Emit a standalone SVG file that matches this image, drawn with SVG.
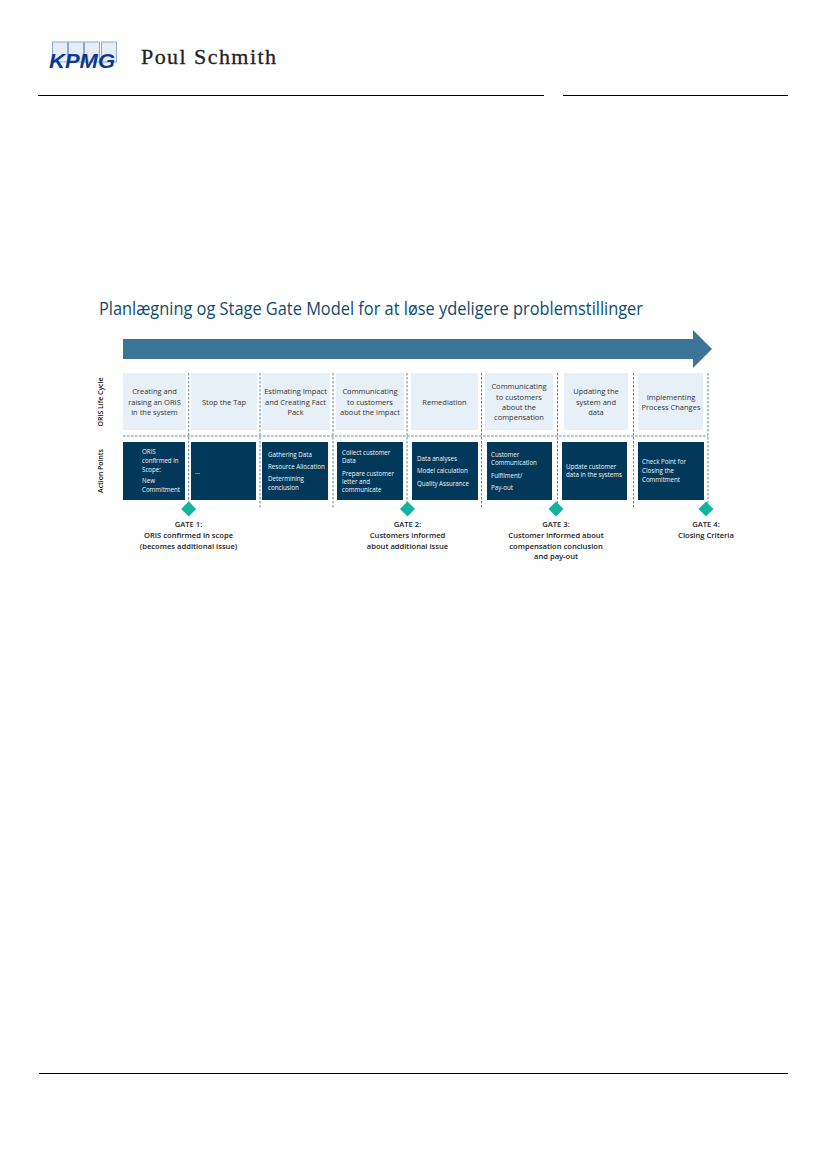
<svg xmlns="http://www.w3.org/2000/svg" width="827" height="1169" viewBox="0 0 827 1169">
<style>
text{font-family:"Open Sans","Noto Sans","Liberation Sans",sans-serif}
.rule{stroke:#000;stroke-width:1.2;fill:none}
.light{fill:#e8f0f7}
.dark{fill:#02395a}
.lt{font-size:7.5px;fill:#333;text-anchor:middle}
.dt{font-size:6.2px;fill:#f2f6f8}
.gt{font-size:7.6px;fill:#222;text-anchor:middle;font-weight:600}
.side{font-size:6.9px;fill:#111;text-anchor:middle;font-weight:600}
.dash{stroke:#5f8aa5;stroke-width:1;stroke-dasharray:2.5 1.5;fill:none}
.gem{fill:#10b59b}
.kb{fill:#e6edf8;stroke:#8ea9d8;stroke-width:1}
</style>
<g id="header">
<rect class="kb" x="52.500" y="42" width="15" height="20"/>
<rect class="kb" x="68.500" y="42" width="15" height="20"/>
<rect class="kb" x="84.500" y="42" width="15" height="20"/>
<rect class="kb" x="101.500" y="42" width="15" height="20"/>
<text x="49" y="68" style="font-family:'Liberation Sans',sans-serif;font-size:21px;font-weight:700;font-style:italic;fill:#0b3a94" textLength="66" lengthAdjust="spacingAndGlyphs">KPMG</text>
<text x="141" y="64" textLength="135" style="font-family:'Liberation Serif',serif;font-size:22px;fill:#222;stroke:#222;stroke-width:.3">Poul Schmith</text>
<path class="rule" d="M38 95.500H544M563 95.500H788"/>
</g>
<text id="title" x="99" y="315" font-size="17.500" fill="#0f4a6c" textLength="544" lengthAdjust="spacingAndGlyphs">Planlægning og Stage Gate Model for at løse ydeligere problemstillinger</text>
<polygon id="timeline-arrow" points="123,339 693,339 693,330 712,349 693,368 693,359 123,359" fill="#3b7699"/>
<text class="side" transform="translate(103,402) rotate(-90)">ORIS Life Cycle</text>
<text class="side" transform="translate(103,471) rotate(-90)">Action Points</text>
<g id="connectors">
<path class="dash" d="M123 436H708M188.700 373V508M260 373V508M333 373V508M407 373V508M481.500 373V508M557.500 373V508M633.500 373V508M708 373V508"/>
</g>
<g id="stage-1"><rect class="light" x="123" y="373" width="63" height="57"/><text class="lt" x="154.500"><tspan x="154.500" y="394">Creating and</tspan><tspan x="154.500" y="405">raising an ORIS</tspan><tspan x="154.500" y="415">in the system</tspan></text></g>
<g id="stage-2"><rect class="light" x="191" y="373" width="66" height="57"/><text class="lt" x="224" y="405">Stop the Tap</text></g>
<g id="stage-3"><rect class="light" x="262" y="373" width="68" height="57"/><text class="lt"><tspan x="295.500" y="394">Estimating Impact</tspan><tspan x="295.500" y="405">and Creating Fact</tspan><tspan x="295.500" y="415">Pack</tspan></text></g>
<g id="stage-4"><rect class="light" x="336" y="373" width="68" height="57"/><text class="lt"><tspan x="370" y="394">Communicating</tspan><tspan x="370" y="405">to customers</tspan><tspan x="370" y="415">about the impact</tspan></text></g>
<g id="stage-5"><rect class="light" x="411" y="373" width="67" height="57"/><text class="lt" x="444.500" y="405">Remediation</text></g>
<g id="stage-6"><rect class="light" x="485" y="373" width="68" height="57"/><text class="lt"><tspan x="519" y="389">Communicating</tspan><tspan x="519" y="400">to customers</tspan><tspan x="519" y="410">about the</tspan><tspan x="519" y="420">compensation</tspan></text></g>
<g id="stage-7"><rect class="light" x="564" y="373" width="64" height="57"/><text class="lt"><tspan x="596" y="394">Updating the</tspan><tspan x="596" y="405">system and</tspan><tspan x="596" y="415">data</tspan></text></g>
<g id="stage-8"><rect class="light" x="638" y="373" width="65" height="57"/><text class="lt"><tspan x="671" y="400">Implementing</tspan><tspan x="671" y="410">Process Changes</tspan></text></g>
<g id="action-1"><rect class="dark" x="123" y="442" width="62" height="58"/><text class="dt"><tspan x="142" y="454">ORIS</tspan><tspan x="142" y="463">confirmed in</tspan><tspan x="142" y="472">Scope:</tspan><tspan x="142" y="483">New</tspan><tspan x="142" y="492">Commitment</tspan></text></g>
<g id="action-2"><rect class="dark" x="191" y="442" width="65" height="58"/><text class="dt" x="195" y="474">...</text></g>
<g id="action-3"><rect class="dark" x="262" y="442" width="66" height="58"/><text class="dt"><tspan x="268" y="457">Gathering Data</tspan><tspan x="268" y="469">Resource Allocation</tspan><tspan x="268" y="481">Determining</tspan><tspan x="268" y="490">conclusion</tspan></text></g>
<g id="action-4"><rect class="dark" x="337" y="442" width="66" height="58"/><text class="dt"><tspan x="342" y="455">Collect customer</tspan><tspan x="342" y="463">Data</tspan><tspan x="342" y="476">Prepare customer</tspan><tspan x="342" y="484">letter and</tspan><tspan x="342" y="492">communicate</tspan></text></g>
<g id="action-5"><rect class="dark" x="412" y="442" width="66" height="58"/><text class="dt"><tspan x="417" y="461">Data analyses</tspan><tspan x="417" y="473">Model calculation</tspan><tspan x="417" y="486">Quality Assurance</tspan></text></g>
<g id="action-6"><rect class="dark" x="487" y="442" width="65" height="58"/><text class="dt"><tspan x="491" y="457">Customer</tspan><tspan x="491" y="465">Communication</tspan><tspan x="491" y="478">Fulfilment/</tspan><tspan x="491" y="490">Pay-out</tspan></text></g>
<g id="action-7"><rect class="dark" x="562" y="442" width="65" height="58"/><text class="dt"><tspan x="566" y="469">Update customer</tspan><tspan x="566" y="477">data in the systems</tspan></text></g>
<g id="action-8"><rect class="dark" x="638" y="442" width="66" height="58"/><text class="dt"><tspan x="642" y="464">Check Point for</tspan><tspan x="642" y="473">Closing the</tspan><tspan x="642" y="482">Commitment</tspan></text></g>
<g id="gate-1"><polygon class="gem" points="188.700,501.500 196.200,509 188.700,516.500 181.200,509"/><text class="gt"><tspan x="188.500" y="527">GATE 1:</tspan><tspan x="188.500" y="538">ORIS confirmed in scope</tspan><tspan x="188.500" y="549">(becomes additional issue)</tspan></text></g>
<g id="gate-2"><polygon class="gem" points="407.500,501.500 415,509 407.500,516.500 400,509"/><text class="gt"><tspan x="407.500" y="527">GATE 2:</tspan><tspan x="407.500" y="538">Customers informed</tspan><tspan x="407.500" y="549">about additional issue</tspan></text></g>
<g id="gate-3"><polygon class="gem" points="556,501.500 563.500,509 556,516.500 548.500,509"/><text class="gt"><tspan x="556" y="527">GATE 3:</tspan><tspan x="556" y="538">Customer informed about</tspan><tspan x="556" y="549">compensation conclusion</tspan><tspan x="556" y="559">and pay-out</tspan></text></g>
<g id="gate-4"><polygon class="gem" points="706,501.500 713.500,509 706,516.500 698.500,509"/><text class="gt"><tspan x="706" y="527">GATE 4:</tspan><tspan x="706" y="538">Closing Criteria</tspan></text></g>
<path id="footer-rule" class="rule" d="M39 1073.500H788"/>
</svg>
